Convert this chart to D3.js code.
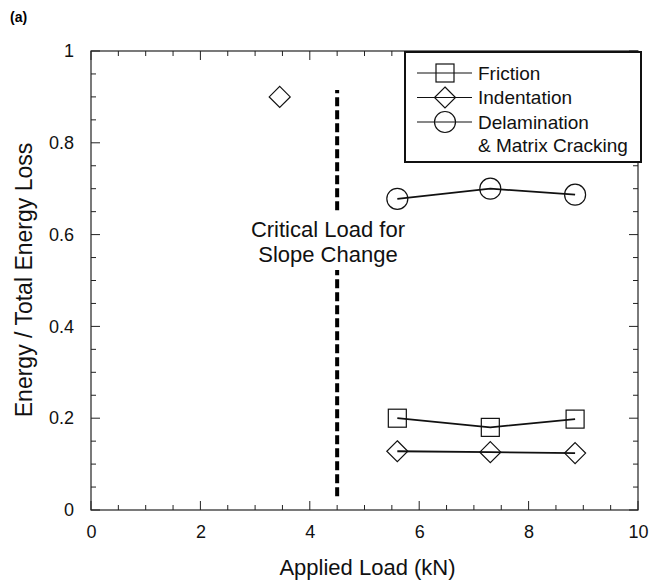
<!DOCTYPE html>
<html>
<head>
<script src="https://d3js.org/d3.v7.min.js"></script>
<style>
  body {margin: 0; background: #fff; font-family: "Liberation Sans", Arial, sans-serif;}
  .tick text {font: 18px "Liberation Sans", Arial, sans-serif; fill: #111;}
  .axis .domain {display: none;}
</style>
</head>
<body>
<svg id="chart" width="662" height="580"></svg>
<script>
// data
var loads = [5.6, 7.3, 8.85];
var friction = [0.2, 0.18, 0.198];
var indentation = [0.128, 0.126, 0.124];
var delamination = [0.678, 0.7, 0.687];
var lonePoint = {x: 3.45, y: 0.9};   // single indentation point below the critical load
var criticalLoad = 4.5;
var criticalRange = [0.03, 0.915];
var xTicks = [0, 2, 4, 6, 8, 10];
var yTicks = [0, 0.2, 0.4, 0.6, 0.8, 1];
var seriesNames = ["Friction", "Indentation", "Delamination"];

var svg = d3.select("#chart"),
    margin = {top: 51, right: 24, bottom: 70, left: 91},
    width = 662 - margin.left - margin.right,
    height = 580 - margin.top - margin.bottom,
    g = svg.append("g").attr("transform", "translate(" + margin.left + "," + margin.top + ")");

var x = d3.scaleLinear().domain([0, 10]).range([0, width]);
var y = d3.scaleLinear().domain([0, 1]).range([height, 0]);

// frame
g.append("rect").attr("width", width).attr("height", height)
    .attr("fill", "none").attr("stroke", "#222").attr("stroke-width", 1.2);

// inward ticks, all four sides
var xMinor = d3.range(0, 10.01, 0.5), yMinor = d3.range(0, 1.001, 0.05);
function isMajorX(v) { return Math.abs(v / 2 - Math.round(v / 2)) < 1e-6; }
function isMajorY(v) { return Math.abs(v / 0.2 - Math.round(v / 0.2)) < 1e-6; }

g.append("g").selectAll("line").data(xMinor).enter().append("line")
    .attr("x1", d => x(d)).attr("x2", d => x(d))
    .attr("y1", height).attr("y2", d => height - (isMajorX(d) ? 9 : 5))
    .attr("stroke", "#222");
g.append("g").selectAll("line").data(xMinor).enter().append("line")
    .attr("x1", d => x(d)).attr("x2", d => x(d))
    .attr("y1", 0).attr("y2", d => (isMajorX(d) ? 9 : 5))
    .attr("stroke", "#222");
g.append("g").selectAll("line").data(yMinor).enter().append("line")
    .attr("y1", d => y(d)).attr("y2", d => y(d))
    .attr("x1", 0).attr("x2", d => (isMajorY(d) ? 9 : 5))
    .attr("stroke", "#222");
g.append("g").selectAll("line").data(yMinor).enter().append("line")
    .attr("y1", d => y(d)).attr("y2", d => y(d))
    .attr("x1", width).attr("x2", d => width - (isMajorY(d) ? 9 : 5))
    .attr("stroke", "#222");

g.append("g").attr("class", "axis").attr("transform", "translate(0," + height + ")")
    .call(d3.axisBottom(x).tickValues(xTicks).tickSize(0).tickPadding(15).tickFormat(d3.format("d")));
g.append("g").attr("class", "axis")
    .call(d3.axisLeft(y).tickValues(yTicks).tickSize(0).tickPadding(17)
        .tickFormat(d => d === 0 || d === 1 ? d3.format("d")(d) : d3.format(".1f")(d)));

// axis titles
svg.append("text").attr("x", margin.left + width / 2 + 3).attr("y", 575)
    .attr("text-anchor", "middle").attr("font-size", 22).attr("fill", "#111")
    .text("Applied Load (kN)");
svg.append("text").attr("transform", "translate(32,280) rotate(-90)")
    .attr("text-anchor", "middle").attr("font-size", 23).attr("fill", "#111")
    .text("Energy / Total Energy Loss");
svg.append("text").attr("x", 10).attr("y", 22).attr("font-size", 14).attr("font-weight", "bold")
    .text("(a)");

// critical load line, interrupted by its label
g.append("line")
    .attr("x1", x(criticalLoad)).attr("x2", x(criticalLoad))
    .attr("y1", y(criticalRange[0])).attr("y2", y(criticalRange[1]))
    .attr("stroke", "#000").attr("stroke-width", 4).attr("stroke-dasharray", "9,4");
g.append("rect").attr("x", x(4.35) - 82).attr("y", 214 - margin.top)
    .attr("width", 164).attr("height", 56).attr("fill", "#fff");
g.append("text").attr("y", 237 - margin.top)
    .attr("text-anchor", "middle").attr("font-size", 22).attr("fill", "#111")
    .selectAll("tspan").data(["Critical Load for", "Slope Change"]).enter().append("tspan")
    .attr("x", x(4.35) - 1).attr("dy", (d, i) => i ? 25 : 0).text(d => d);

// markers
function marker(sel, kind) {
  if (kind === "Friction") {
    sel.append("rect").attr("x", -9).attr("y", -9).attr("width", 18).attr("height", 18);
  } else if (kind === "Indentation") {
    sel.append("path").attr("d", "M0,-10.5L10.5,0L0,10.5L-10.5,0Z");
  } else {
    sel.append("circle").attr("r", 10.5);
  }
  sel.selectAll("*").attr("fill", "none").attr("stroke", "#111").attr("stroke-width", 1.2);
}

var seriesData = [friction, indentation, delamination];
var line = d3.line().x((d, i) => x(loads[i])).y(d => y(d));
seriesData.forEach(function(vals, k) {
  g.append("path").datum(vals).attr("d", line)
      .attr("fill", "none").attr("stroke", "#111").attr("stroke-width", 1.8);
  vals.forEach(function(v, i) {
    marker(g.append("g").attr("transform", "translate(" + x(loads[i]) + "," + y(v) + ")"), seriesNames[k]);
  });
});
marker(g.append("g").attr("transform", "translate(" + x(lonePoint.x) + "," + y(lonePoint.y) + ")"), "Indentation");

// legend
var lg = svg.append("g").attr("transform", "translate(405,52)");
lg.append("rect").attr("width", 236).attr("height", 110)
    .attr("fill", "#fff").attr("stroke", "#111").attr("stroke-width", 2);
seriesNames.forEach(function(name, i) {
  var row = lg.append("g").attr("transform", "translate(0," + (21 + i * 24.5) + ")");
  row.append("line").attr("x1", 12).attr("x2", 67).attr("stroke", "#111").attr("stroke-width", 1.2);
  marker(row.append("g").attr("transform", "translate(40,0)"), name);
  row.append("text").attr("x", 73).attr("y", 6.5).attr("font-size", 19).attr("fill", "#111").text(name);
});
lg.append("text").attr("x", 73).attr("y", 100).attr("font-size", 19).attr("fill", "#111").text("& Matrix Cracking");
</script>
</body>
</html>
